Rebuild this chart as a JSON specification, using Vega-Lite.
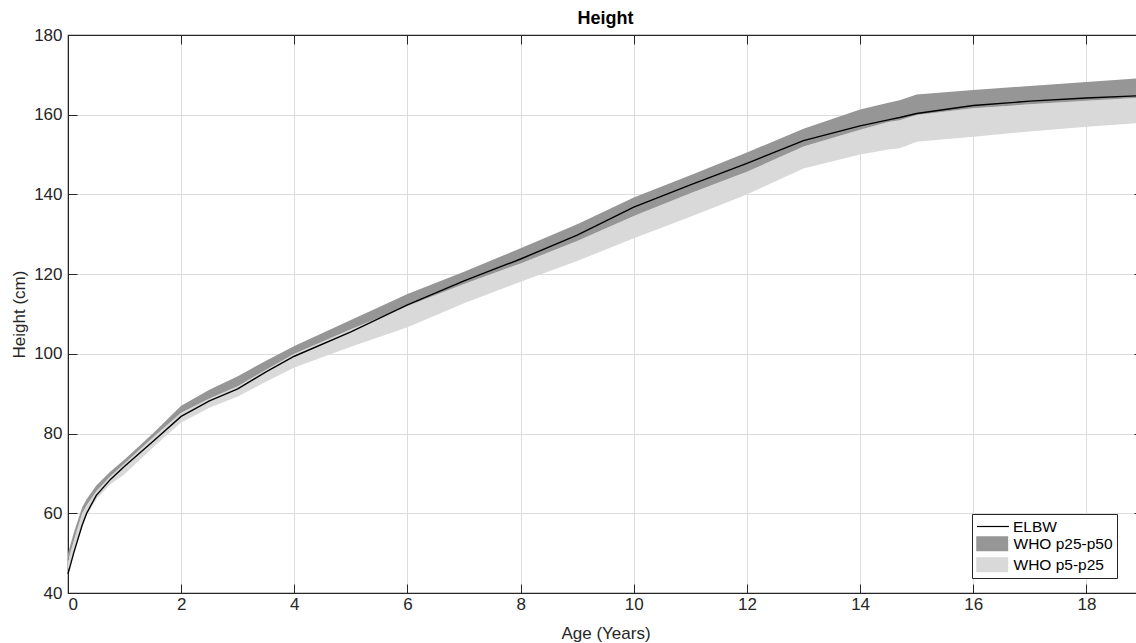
{
  "$schema": "https://vega.github.io/schema/vega-lite/v6.json",
  "autosize": "none",
  "padding": {"left": 68, "top": 35, "right": 0, "bottom": 50},
  "width": 1075,
  "height": 558,
  "background": "white",
  "config": {
    "font": "Liberation Sans",
    "view": {"stroke": "#262626", "strokeWidth": 1.2}
  },
  "title": {"text": "Height", "font": "Liberation Sans", "fontSize": 18, "fontWeight": "bold", "color": "#000", "anchor": "middle", "offset": -2},
  "data": {"values": [
    {"age": 0, "p5": 45.5, "p25": 48.0, "p50": 50.0, "elbw": 44.8},
    {"age": 0.1, "p5": 50.5, "p25": 53.0, "p50": 55.0, "elbw": 50.0},
    {"age": 0.25, "p5": 57.5, "p25": 60.0, "p50": 61.5, "elbw": 57.0},
    {"age": 0.33, "p5": 59.5, "p25": 62.0, "p50": 63.5, "elbw": 60.0},
    {"age": 0.5, "p5": 63.5, "p25": 65.5, "p50": 67.0, "elbw": 64.5},
    {"age": 0.75, "p5": 67.3, "p25": 69.3, "p50": 70.5, "elbw": 68.5},
    {"age": 1, "p5": 69.8, "p25": 72.5, "p50": 73.5, "elbw": 71.8},
    {"age": 1.5, "p5": 76.5, "p25": 79.0, "p50": 80.0, "elbw": 78.0},
    {"age": 2, "p5": 82.8, "p25": 85.2, "p50": 87.0, "elbw": 84.3},
    {"age": 2.5, "p5": 86.5, "p25": 88.8, "p50": 91.0, "elbw": 88.2},
    {"age": 3, "p5": 89.3, "p25": 91.9, "p50": 94.4, "elbw": 91.2},
    {"age": 3.5, "p5": 93.0, "p25": 96.0, "p50": 98.3, "elbw": 95.5},
    {"age": 4, "p5": 96.6, "p25": 100.0, "p50": 102.0, "elbw": 99.4},
    {"age": 5, "p5": 101.8, "p25": 106.2, "p50": 108.5, "elbw": 105.5},
    {"age": 6, "p5": 106.7, "p25": 112.0, "p50": 115.0, "elbw": 112.3},
    {"age": 7, "p5": 112.7, "p25": 117.5, "p50": 120.6, "elbw": 118.3},
    {"age": 8, "p5": 118.1, "p25": 122.7, "p50": 126.5, "elbw": 123.8},
    {"age": 9, "p5": 123.3, "p25": 128.3, "p50": 132.5, "elbw": 129.8},
    {"age": 10, "p5": 129.0, "p25": 134.6, "p50": 139.2, "elbw": 136.8},
    {"age": 11, "p5": 134.4, "p25": 140.3, "p50": 144.8, "elbw": 142.4},
    {"age": 12, "p5": 140.0, "p25": 145.7, "p50": 150.5, "elbw": 147.8},
    {"age": 13, "p5": 146.5, "p25": 152.0, "p50": 156.5, "elbw": 153.5},
    {"age": 14, "p5": 150.0, "p25": 156.2, "p50": 161.3, "elbw": 157.2},
    {"age": 14.5, "p5": 151.3, "p25": 158.2, "p50": 163.0, "elbw": 158.7},
    {"age": 14.7, "p5": 151.6, "p25": 158.6, "p50": 163.6, "elbw": 159.3},
    {"age": 15, "p5": 153.2, "p25": 159.9, "p50": 165.1, "elbw": 160.3},
    {"age": 16, "p5": 154.5, "p25": 161.6, "p50": 166.2, "elbw": 162.3},
    {"age": 17, "p5": 155.8, "p25": 162.6, "p50": 167.2, "elbw": 163.4},
    {"age": 18, "p5": 157.0, "p25": 163.5, "p50": 168.2, "elbw": 164.2},
    {"age": 19, "p5": 158.0, "p25": 164.3, "p50": 169.2, "elbw": 164.8}
  ]},
  "layer": [
    {
      "mark": {"type": "area", "opacity": 1},
      "encoding": {
        "x": {"field": "age", "type": "quantitative", "scale": {"domain": [0, 19], "nice": false},
              "axis": {"orient": "bottom", "title": "Age (Years)", "values": [0, 2, 4, 6, 8, 10, 12, 14, 16, 18],
                       "grid": true, "gridColor": "#dcdcdc", "domainColor": "#262626", "tickColor": "#262626",
                       "tickSize": -9, "labelPadding": 12, "labelFontSize": 17, "labelColor": "#262626",
                       "titleFontSize": 17, "titleFontWeight": "normal", "titleColor": "#262626", "titlePadding": 13}},
        "y": {"field": "p5", "type": "quantitative", "scale": {"domain": [40, 180], "nice": false},
              "axis": {"orient": "left", "title": "Height (cm)", "values": [40, 60, 80, 100, 120, 140, 160, 180],
                       "grid": true, "gridColor": "#dcdcdc", "domainColor": "#262626", "tickColor": "#262626",
                       "tickSize": -9, "labelPadding": 15, "labelFontSize": 17, "labelColor": "#262626",
                       "titleFontSize": 17, "titleFontWeight": "normal", "titleColor": "#262626", "titlePadding": 5}},
        "y2": {"field": "p25"},
        "fill": {"datum": "WHO p5-p25", "type": "nominal",
                 "scale": {"domain": ["WHO p25-p50", "WHO p5-p25"], "range": ["#969696", "#d9d9d9"]},
                 "legend": {
                   "title": " ", "titleFontSize": 15, "titlePadding": 3,
                   "orient": "none", "legendX": 904, "legendY": 479,
                   "strokeColor": "#262626", "fillColor": "white", "padding": 4, "columnPadding": 0,
                   "labelFont": "Liberation Sans", "labelFontSize": 15.5, "labelColor": "#000", "labelLimit": 0,
                   "symbolType": "M-1,-1H3.26V1H-1Z", "symbolSize": 225, "symbolOffset": 0,
                   "symbolStrokeWidth": 0, "symbolOpacity": 1,
                   "labelOffset": 22, "rowPadding": 4, "zindex": 1
                 }}
      }
    },
    {
      "mark": {"type": "area", "opacity": 1},
      "encoding": {
        "x": {"field": "age", "type": "quantitative",
              "axis": {"orient": "top", "title": null, "values": [0, 2, 4, 6, 8, 10, 12, 14, 16, 18], "labels": false,
                       "grid": false, "domainColor": "#262626", "tickColor": "#262626", "tickSize": -9}},
        "y": {"field": "p25", "type": "quantitative",
              "axis": {"orient": "right", "title": null, "values": [40, 60, 80, 100, 120, 140, 160, 180], "labels": false,
                       "grid": false, "domainColor": "#262626", "tickColor": "#262626", "tickSize": -9}},
        "y2": {"field": "p50"},
        "fill": {"datum": "WHO p25-p50", "type": "nominal"}
      }
    },
    {
      "mark": {"type": "line", "strokeWidth": 1.4},
      "encoding": {
        "x": {"field": "age", "type": "quantitative", "axis": null},
        "y": {"field": "elbw", "type": "quantitative", "axis": null},
        "stroke": {"datum": "ELBW", "type": "nominal",
                   "scale": {"domain": ["ELBW"], "range": ["#000000"]},
                   "legend": {
                     "title": null, "orient": "none", "legendX": 904, "legendY": 479,
                     "padding": 4, "columnPadding": 0,
                     "labelFont": "Liberation Sans", "labelFontSize": 15.5, "labelColor": "#000", "labelLimit": 0,
                     "symbolType": "M-1,0H3.26", "symbolSize": 225, "symbolOffset": 0,
                     "symbolStrokeWidth": 1.2,
                     "labelOffset": 20, "zindex": 2
                   }}
      }
    }
  ],
  "resolve": {"axis": {"x": "independent", "y": "independent"}}
}
